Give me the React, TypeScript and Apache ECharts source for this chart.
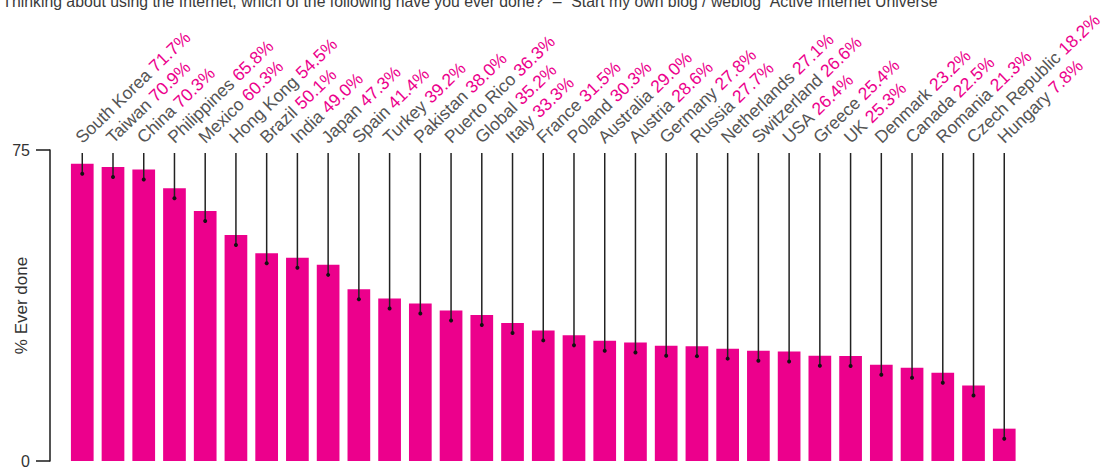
import React, { useEffect, useRef } from "react";
import * as echarts from "echarts";

const countries = [
  "South Korea", "Taiwan", "China", "Philippines", "Mexico", "Hong Kong", "Brazil", "India",
  "Japan", "Spain", "Turkey", "Pakistan", "Puerto Rico", "Global", "Italy", "France", "Poland",
  "Australia", "Austria", "Germany", "Russia", "Netherlands", "Switzerland", "USA", "Greece",
  "UK", "Denmark", "Canada", "Romania", "Czech Republic", "Hungary",
];
const everDone = [
  71.7, 70.9, 70.3, 65.8, 60.3, 54.5, 50.1, 49.0, 47.3, 41.4, 39.2, 38.0, 36.3, 35.2, 33.3, 31.5,
  30.3, 29.0, 28.6, 27.8, 27.7, 27.1, 26.6, 26.4, 25.4, 25.3, 23.2, 22.5, 21.3, 18.2, 7.8,
];
const yTicks = [0, 75];
const titleText =
  "\u201CThinking about using the Internet, which of the following have you ever done?\u201D \u2013 \u201CStart my own blog / weblog\u201D Active Internet Universe";
const axisTitle = "% Ever done";

const PINK = "#EC008C";
const GREY = "#555555";
const FONT = "'Liberation Sans', Arial, sans-serif";

export default function App() {
  const ref = useRef<HTMLDivElement>(null);
  useEffect(() => {
    if (!ref.current) return;
    const chart = echarts.init(ref.current, undefined, { renderer: "svg" });
    const rot = (44 * Math.PI) / 180;
    chart.setOption({
      animation: false,
      textStyle: { fontFamily: FONT },
      grid: { left: 50, right: 85, top: 150, bottom: 8, containLabel: false, outerBoundsMode: "none" },
      graphic: [
        {
          type: "text",
          left: -3,
          top: -7,
          style: { text: titleText, fontSize: 15.8, fill: "#3a3a3a", fontFamily: FONT },
        },
      ],
      xAxis: {
        type: "value",
        min: -1.05,
        max: countries.length - 0.52,
        axisLine: { show: false },
        axisTick: { show: false },
        axisLabel: { show: false },
        splitLine: { show: false },
      },
      yAxis: {
        type: "value",
        position: "left",
        min: yTicks[0],
        max: yTicks[1],
        interval: yTicks[1] - yTicks[0],
        axisLine: { show: true, onZero: false, lineStyle: { color: "#1a1a1a", width: 1.5 } },
        axisTick: { show: true, inside: false, length: 14, lineStyle: { color: "#1a1a1a", width: 1.5 } },
        axisLabel: { fontSize: 16, color: "#333", margin: 20, fontFamily: FONT },
        splitLine: { show: false },
        name: axisTitle,
        nameLocation: "middle",
        nameRotate: 90,
        nameGap: 20,
        nameMoveOverlap: false,
        nameTextStyle: { fontSize: 17, color: "#333", fontFamily: FONT },
      },
      series: [
        {
          type: "bar",
          data: everDone.map((v, i) => [i, v]),
          barWidth: 22.7,
          itemStyle: { color: PINK },
          silent: true,
        },
        {
          type: "custom",
          data: everDone.map((v, i) => [i, v]),
          silent: true,
          z: 5,
          renderItem: (params: any, api: any) => {
            const i = api.value(0);
            const v = api.value(1);
            const p = api.coord([i, v]);
            const top = api.coord([i, yTicks[1]]);
            const cx = p[0];
            const lineTop = top[1] + 3;
            const dotY = p[1] + 10;
            return {
              type: "group",
              children: [
                {
                  type: "line",
                  shape: { x1: cx, y1: lineTop, x2: cx, y2: dotY },
                  style: { stroke: "#222", lineWidth: 1.5 },
                },
                {
                  type: "circle",
                  shape: { cx, cy: dotY, r: 2 },
                  style: { fill: "#111" },
                },
                {
                  type: "text",
                  x: cx + 2.4,
                  y: top[1] - 3.5,
                  rotation: rot,
                  style: {
                    text: "{n|" + countries[i] + "} {v|" + v.toFixed(1) + "%}",
                    align: "left",
                    verticalAlign: "bottom",
                    rich: {
                      n: { fontSize: 17.5, fill: GREY, fontFamily: FONT },
                      v: { fontSize: 17.5, fill: PINK, fontFamily: FONT },
                    },
                    fontSize: 17.5,
                    fontFamily: FONT,
                  },
                },
              ],
            };
          },
        },
      ],
    });
    return () => chart.dispose();
  }, []);
  return (
    <div
      ref={ref}
      style={{ position: "fixed", left: 0, top: 0, width: 1104, height: 469, background: "#fff" }}
    />
  );
}
